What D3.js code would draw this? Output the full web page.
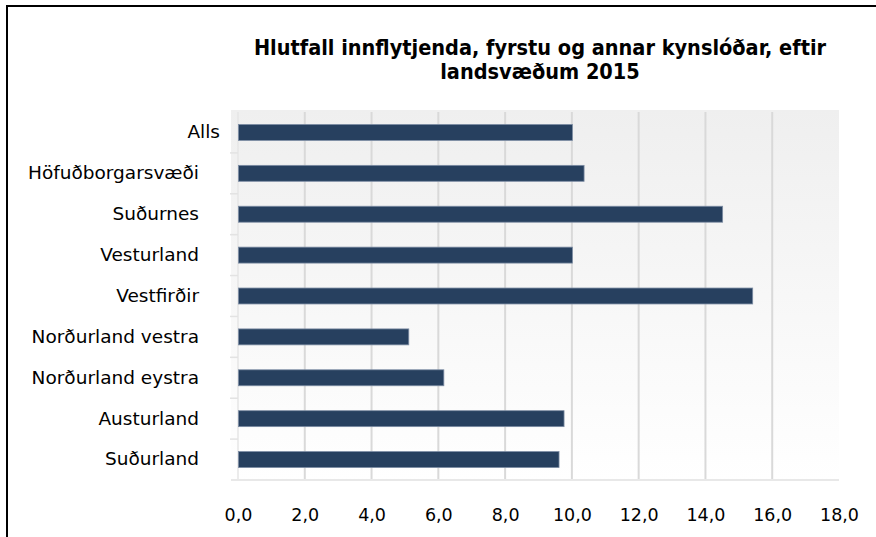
<!DOCTYPE html>
<html>
<head>
<meta charset="utf-8">
<script src="https://cdn.jsdelivr.net/npm/d3@7"></script>
<style>
  body { margin: 0; background: #fff; }
  svg { display: block; }
</style>
</head>
<body>
<svg width="876" height="537"></svg>
<script>
  var categories = ['Alls', 'Höfuðborgarsvæði', 'Suðurnes', 'Vesturland', 'Vestfirðir',
    'Norðurland vestra', 'Norðurland eystra', 'Austurland', 'Suðurland'];
  var values = [10.0, 10.35, 14.5, 10.0, 15.4, 5.1, 6.15, 9.75, 9.6];
  var xTicks = [0, 2, 4, 6, 8, 10, 12, 14, 16, 18];
  var titleLines = ['Hlutfall innflytjenda, fyrstu og annar kynslóðar, eftir', 'landsvæðum 2015'];

  var svg = d3.select('svg'),
    plot = { left: 238, right: 839, top: 112, bottom: 480 },
    titleFont = '"DejaVu Sans Condensed", "DejaVu Sans", sans-serif',
    labelFont = '"DejaVu Sans", sans-serif';

  var x = d3.scaleLinear().domain([0, 18]).range([plot.left, plot.right]);
  var y = d3.scaleBand().domain(categories).range([plot.top, plot.bottom])
    .paddingInner(0.61).paddingOuter(0.305);

  // Frame
  svg.append('path')
    .attr('d', 'M7,537V6H876')
    .attr('fill', 'none')
    .attr('stroke', '#000')
    .attr('stroke-width', 2);

  // Title
  svg.append('text')
    .attr('text-anchor', 'middle')
    .attr('font-family', titleFont)
    .attr('font-weight', 'bold')
    .attr('font-size', 21.5)
    .attr('fill', '#000')
    .selectAll('tspan')
    .data(titleLines)
    .enter().append('tspan')
    .attr('x', 540)
    .attr('y', function(d, i) { return 55 + i * 24; })
    .text(function(d) { return d; });

  // Plot background gradient
  var grad = svg.append('defs').append('linearGradient')
    .attr('id', 'bg').attr('x1', 0).attr('y1', 0).attr('x2', 0).attr('y2', 1);
  grad.append('stop').attr('offset', '0%').attr('stop-color', '#efefef');
  grad.append('stop').attr('offset', '100%').attr('stop-color', '#ffffff');

  svg.append('rect')
    .attr('x', 231).attr('y', plot.top - 2)
    .attr('width', plot.right - 231).attr('height', plot.bottom - plot.top + 2)
    .attr('fill', 'url(#bg)');

  // Gridlines
  svg.append('g')
    .selectAll('line')
    .data(xTicks.slice(1, -1))
    .enter().append('line')
    .attr('x1', function(d) { return x(d); })
    .attr('x2', function(d) { return x(d); })
    .attr('y1', plot.top)
    .attr('y2', plot.bottom)
    .attr('stroke', '#d9d9d9')
    .attr('stroke-width', 2);

  // Left axis line + category separators
  svg.append('line')
    .attr('x1', x(0)).attr('x2', x(0))
    .attr('y1', plot.top).attr('y2', plot.bottom)
    .attr('stroke', '#e6e6e6').attr('stroke-width', 1.5);

  svg.append('g')
    .selectAll('line')
    .data(categories.slice(1))
    .enter().append('line')
    .attr('x1', 230).attr('x2', x(0))
    .attr('y1', function(d) { return y(d) - (y.step() - y.bandwidth()) / 2; })
    .attr('y2', function(d) { return y(d) - (y.step() - y.bandwidth()) / 2; })
    .attr('stroke', '#e3e3e3').attr('stroke-width', 1.5);

  svg.append('line')
    .attr('x1', 231).attr('x2', plot.right)
    .attr('y1', plot.bottom).attr('y2', plot.bottom)
    .attr('stroke', '#e8e8e8').attr('stroke-width', 2);

  // Bars
  svg.append('g')
    .selectAll('rect')
    .data(values)
    .enter().append('rect')
    .attr('x', x(0) + 0.5)
    .attr('y', function(d, i) { return y(categories[i]); })
    .attr('width', function(d) { return x(d) - x(0); })
    .attr('height', y.bandwidth())
    .attr('fill', '#27405f')
    .attr('stroke', '#7c8ca3')
    .attr('stroke-width', 0.8);

  // Y axis labels
  var yAxis = svg.append('g')
    .attr('transform', 'translate(' + (x(0) - 39) + ',0)')
    .call(d3.axisLeft(y).tickSize(0).tickPadding(0));
  yAxis.select('.domain').remove();
  yAxis.selectAll('text')
    .attr('font-family', labelFont)
    .attr('font-size', 18.5)
    .attr('fill', '#000')
    .attr('dx', function(d) { return d === 'Alls' ? 21 : 0; });

  // X axis labels
  var xAxis = svg.append('g')
    .attr('transform', 'translate(0,' + plot.bottom + ')')
    .call(d3.axisBottom(x).tickValues(xTicks).tickSize(0).tickPadding(29)
      .tickFormat(function(d) { return d3.format('.1f')(d).replace('.', ','); }));
  xAxis.select('.domain').remove();
  xAxis.selectAll('text')
    .attr('font-family', labelFont)
    .attr('font-size', 17.5)
    .attr('fill', '#000');
</script>
</body>
</html>
